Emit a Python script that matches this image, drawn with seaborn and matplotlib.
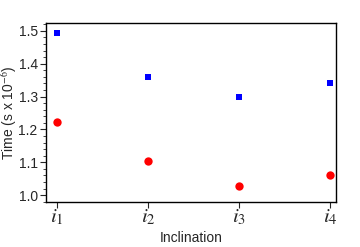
import numpy as np
import pandas as pd
import matplotlib
matplotlib.use("Agg")
import matplotlib.pyplot as plt
import seaborn as sns
from matplotlib.ticker import MultipleLocator

# data
inclination = [1, 2, 3, 4]
tick_labels = [r'$i_1$', r'$i_2$', r'$i_3$', r'$i_4$']
time_blue = [1.493, 1.360, 1.300, 1.340]
time_red = [1.222, 1.105, 1.027, 1.060]

sns.set_style("ticks")
plt.rcParams['font.family'] = ['Liberation Sans', 'DejaVu Sans']
plt.rcParams['mathtext.fontset'] = 'stix'

df = pd.DataFrame({'x': inclination, 'blue': time_blue, 'red': time_red})

fig = plt.figure(figsize=(3.6, 2.47), dpi=100)
ax = fig.add_axes([46/360, 1 - 202/247, 290/360, 179/247])

sns.scatterplot(data=df, x='x', y='blue', ax=ax, marker='s', color='#0000ff',
                s=15, linewidth=0)
sns.scatterplot(data=df, x='x', y='red', ax=ax, marker='o', color='#ff0000',
                s=36, linewidth=0)

ax.set_xlim(0.882, 4.063)
ax.set_ylim(0.979, 1.524)
ax.set_xticks(inclination)
ax.set_xticklabels(tick_labels, fontsize=15)
ax.yaxis.set_major_locator(MultipleLocator(0.1))
ax.yaxis.set_minor_locator(MultipleLocator(0.02))
ax.set_yticklabels([f'{v:.1f}' for v in ax.get_yticks()])
ax.tick_params(axis='y', which='major', length=4, width=0.8, labelsize=10, pad=2)
ax.tick_params(axis='y', which='minor', length=2, width=0.6)
ax.tick_params(axis='x', length=4, width=0.8, pad=0)
ax.set_xlabel('Inclination', fontsize=10, labelpad=3)
ax.set_ylabel(r'Time (s x 10$^{-6}$)', fontsize=10)
ax.yaxis.set_label_coords(-0.093, 0.5)
for sp in ax.spines.values():
    sp.set_visible(True)
    sp.set_linewidth(1.0)
    sp.set_color('black')

fig.savefig('out.png', dpi=100)
